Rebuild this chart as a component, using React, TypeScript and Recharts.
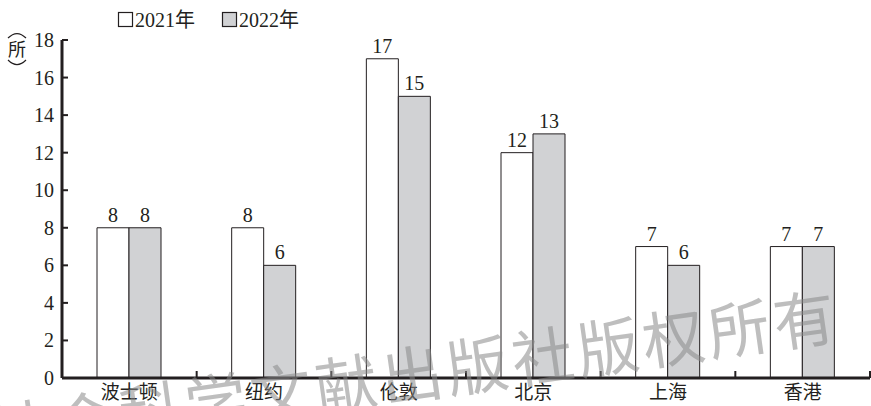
import { BarChart, Bar, XAxis, YAxis, LabelList } from "recharts";

// 各城市数据
const cities = ["波士顿", "纽约", "伦敦", "北京", "上海", "香港"];
const values2021 = [8, 8, 17, 12, 7, 7];
const values2022 = [8, 6, 15, 13, 6, 7];
const yTicks = [0, 2, 4, 6, 8, 10, 12, 14, 16, 18];
const seriesNames = ["2021年", "2022年"];

const data = cities.map((city, i) => ({
  city,
  y2021: values2021[i],
  y2022: values2022[i],
}));

const INK = "#231f20";
const GRAY = "#d1d2d4";
const FONT = "'Liberation Serif', 'Noto Sans CJK SC', serif";

// y ticks point into the plot
const YTick = (props: any) => {
  const { x, y, payload } = props;
  return (
    <g>
      <line x1={x} x2={x + 6} y1={y} y2={y} stroke={INK} strokeWidth={2} />
      <text x={x - 8} y={y} dy="0.35em" textAnchor="end" fontSize={20} fill={INK} fontFamily={FONT}>
        {payload.value}
      </text>
    </g>
  );
};

// x ticks sit between categories
const CityTick = (props: any) => {
  const { x, y, payload } = props;
  const half = payload.offset || 808 / 12;
  const edge = x + half;
  return (
    <g>
      <line x1={edge} x2={edge} y1={y} y2={y - 7} stroke={INK} strokeWidth={2} />
      <text x={x} y={y + 21} textAnchor="middle" fontSize={19} fill={INK} fontFamily={FONT}>
        {payload.value}
      </text>
    </g>
  );
};

function App() {
  return (
    <div style={{ position: "absolute", left: 0, top: 0, width: 871, height: 406, background: "#fff" }}>
      <BarChart
        width={871}
        height={406}
        data={data}
        margin={{ top: 40, right: 1, bottom: 0, left: 0 }}
        barCategoryGap="26%"
        barGap={0}
      >
        <XAxis
          dataKey="city"
          height={28}
          axisLine={{ stroke: INK, strokeWidth: 3 }}
          tickLine={false}
          tickSize={0}
          tickMargin={0}
          interval={0}
          tick={<CityTick />}
        />
        <YAxis
          width={62}
          domain={[0, 18]}
          ticks={yTicks}
          interval={0}
          axisLine={{ stroke: INK, strokeWidth: 3 }}
          tickLine={false}
          tickSize={0}
          tickMargin={0}
          tick={<YTick />}
        />
        <Bar dataKey="y2021" name={seriesNames[0]} fill="#ffffff" stroke={INK} strokeWidth={1} isAnimationActive={false}>
          <LabelList dataKey="y2021" position="top" offset={6} fontSize={20} fill={INK} fontFamily={FONT} />
        </Bar>
        <Bar dataKey="y2022" name={seriesNames[1]} fill={GRAY} stroke={INK} strokeWidth={1} isAnimationActive={false}>
          <LabelList dataKey="y2022" position="top" offset={6} fontSize={20} fill={INK} fontFamily={FONT} />
        </Bar>
      </BarChart>

      {/* legend, unit label and watermark */}
      <svg width={871} height={406} style={{ position: "absolute", left: 0, top: 0, pointerEvents: "none" }}>
        <rect x={118.5} y={12.5} width={14} height={14} fill="#fff" stroke={INK} strokeWidth={1.2} />
        <text x={135} y={27} fontSize={20} fill={INK} fontFamily={FONT}>{seriesNames[0]}</text>
        <rect x={222.5} y={12.5} width={14} height={14} fill={GRAY} stroke={INK} strokeWidth={1.2} />
        <text x={239} y={27} fontSize={20} fill={INK} fontFamily={FONT}>{seriesNames[1]}</text>

        {/* vertical unit label（所） */}
        <path d="M 8 38 Q 17 29 26 38" fill="none" stroke={INK} strokeWidth={1.2} />
        <text x={17} y={56} fontSize={18} textAnchor="middle" fill={INK} fontFamily={FONT}>所</text>
        <path d="M 8 60 Q 17 69 26 60" fill="none" stroke={INK} strokeWidth={1.2} />

        <text
          x={842}
          y={338}
          textAnchor="end"
          fontSize={62}
          letterSpacing={4}
          fill="#8a8a8a"
          opacity={0.55}
          fontFamily="'Noto Sans CJK SC', sans-serif"
          transform="rotate(-8 842 338)"
        >
          社会科学文献出版社版权所有
        </text>
      </svg>
    </div>
  );
}

export default App;
